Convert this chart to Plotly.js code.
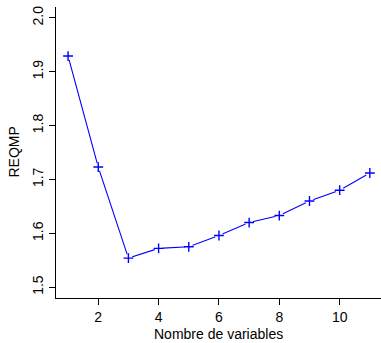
<!DOCTYPE html>
<html>
<head>
<meta charset="utf-8">
<script src="https://cdn.plot.ly/plotly-3.0.1.min.js"></script>
<style>html,body{margin:0;padding:0;background:#fff;}#chart{width:381px;height:343px;}</style>
</head>
<body>
<div id="chart"></div>
<script>
const nVariables = [1, 2, 3, 4, 5, 6, 7, 8, 9, 10, 11];
const reqmp = [1.929, 1.723, 1.554, 1.572, 1.575, 1.596, 1.620, 1.633, 1.660, 1.680, 1.712];
const xTickVals = [2, 4, 6, 8, 10];
const yTickVals = [1.5, 1.6, 1.7, 1.8, 1.9, 2.0];
const yTickText = ["1.5", "1.6", "1.7", "1.8", "1.9", "2.0"];
const xTitle = "Nombre de variables";
const yTitle = "REQMP";

const font = {family: "Liberation Sans, Arial, sans-serif", size: 14, color: "#000"};

const traces = [
  {x: nVariables, y: reqmp, type: "scatter", mode: "lines",
   line: {color: "#0000ff", width: 1.1}, hoverinfo: "skip"},
  {x: nVariables, y: reqmp, type: "scatter", mode: "markers",
   marker: {symbol: "circle", size: 8, color: "#ffffff", line: {width: 0}}, hoverinfo: "skip"},
  {x: nVariables, y: reqmp, type: "scatter", mode: "markers",
   marker: {symbol: "cross-thin-open", size: 7, color: "#0000ff", line: {color: "#0000ff", width: 1.4}}}
];

const layout = {
  width: 381, height: 343,
  margin: {l: 56, r: 0, t: 7, b: 45, pad: 0},
  paper_bgcolor: "#fff", plot_bgcolor: "#fff",
  showlegend: false,
  font: font,
  xaxis: {
    range: [0.6, 11.37], autorange: false,
    tickvals: xTickVals, ticktext: xTickVals.map(String),
    ticks: "outside", ticklen: 6, tickwidth: 1, tickcolor: "#000",
    showline: true, linecolor: "#000", linewidth: 1, mirror: false,
    showgrid: false, zeroline: false,
    tickfont: font
  },
  yaxis: {
    range: [1.48, 2.02], autorange: false,
    tickvals: yTickVals, ticktext: yTickText, tickangle: -90,
    ticks: "outside", ticklen: 6, tickwidth: 1, tickcolor: "#000",
    showline: true, linecolor: "#000", linewidth: 1, mirror: false,
    showgrid: false, zeroline: false,
    tickfont: font
  },
  annotations: [
    {text: xTitle, xref: "paper", yref: "paper", x: 0.5, y: 0, yshift: -36,
     xanchor: "center", yanchor: "middle", showarrow: false, font: font},
    {text: yTitle, xref: "paper", yref: "paper", x: 0, y: 0.5, xshift: -43,
     xanchor: "center", yanchor: "middle", textangle: -90, showarrow: false, font: font}
  ]
};

Plotly.newPlot("chart", traces, layout, {staticPlot: true, displayModeBar: false});
</script>
</body>
</html>
